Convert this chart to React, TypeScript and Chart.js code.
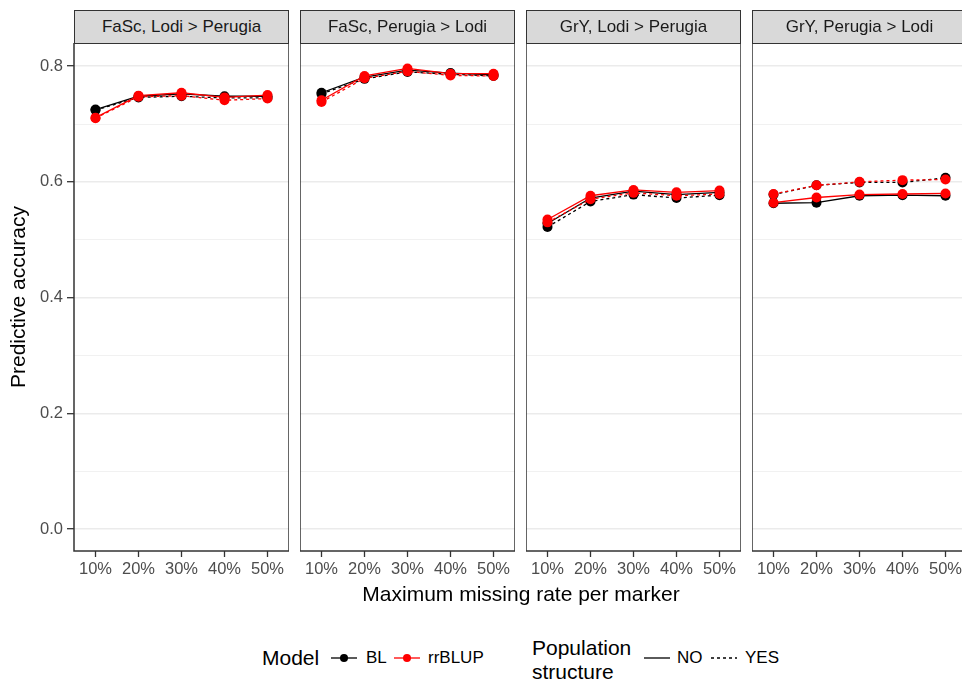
import React, { useEffect, useRef } from "react";
import { Chart, registerables } from "chart.js";
Chart.register(...registerables);

// ---------------- data ----------------
const categories = ["10%", "20%", "30%", "40%", "50%"];
const panelTitles = [
  "FaSc, Lodi > Perugia",
  "FaSc, Perugia > Lodi",
  "GrY, Lodi > Perugia",
  "GrY, Perugia > Lodi",
];
const yTickValues = [0, 0.1, 0.2, 0.3, 0.4, 0.5, 0.6, 0.7, 0.8];
const yTickLabels = ["0.0", "0.2", "0.4", "0.6", "0.8"];

// FaSc, Lodi > Perugia
const p1_BL_NO = [0.725, 0.748, 0.752, 0.748, 0.748];
const p1_BL_YES = [0.724, 0.746, 0.748, 0.745, 0.745];
const p1_RR_NO = [0.711, 0.749, 0.754, 0.746, 0.75];
const p1_RR_YES = [0.71, 0.747, 0.749, 0.741, 0.744];
// FaSc, Perugia > Lodi
const p2_BL_NO = [0.754, 0.781, 0.793, 0.788, 0.785];
const p2_BL_YES = [0.752, 0.778, 0.79, 0.786, 0.783];
const p2_RR_NO = [0.741, 0.783, 0.796, 0.787, 0.787];
const p2_RR_YES = [0.738, 0.779, 0.791, 0.784, 0.783];
// GrY, Lodi > Perugia
const p3_BL_NO = [0.528, 0.572, 0.584, 0.578, 0.582];
const p3_BL_YES = [0.522, 0.566, 0.578, 0.572, 0.577];
const p3_RR_NO = [0.535, 0.576, 0.586, 0.582, 0.585];
const p3_RR_YES = [0.53, 0.57, 0.581, 0.576, 0.579];
// GrY, Perugia > Lodi
const p4_BL_NO = [0.563, 0.564, 0.576, 0.577, 0.576];
const p4_BL_YES = [0.578, 0.594, 0.599, 0.599, 0.607];
const p4_RR_NO = [0.564, 0.573, 0.578, 0.579, 0.58];
const p4_RR_YES = [0.579, 0.594, 0.6, 0.603, 0.604];

const panels = [
  { BL_NO: p1_BL_NO, BL_YES: p1_BL_YES, RR_NO: p1_RR_NO, RR_YES: p1_RR_YES },
  { BL_NO: p2_BL_NO, BL_YES: p2_BL_YES, RR_NO: p2_RR_NO, RR_YES: p2_RR_YES },
  { BL_NO: p3_BL_NO, BL_YES: p3_BL_YES, RR_NO: p3_RR_NO, RR_YES: p3_RR_YES },
  { BL_NO: p4_BL_NO, BL_YES: p4_BL_YES, RR_NO: p4_RR_NO, RR_YES: p4_RR_YES },
];

// ---------------- style ----------------
const FONT = '"Liberation Sans", Arial, Helvetica, sans-serif';
const PLOT_TOP = 43;
const PLOT_BOTTOM = 551;
const PANEL_W = 215;
const PANEL_STEP = 226;
const FIRST_LEFT = 74;
const XAXIS_H = 40;
const BLACK = "#000000";
const RED = "#FF0000";

const isMajor = (v: number) => Math.round(v * 10) % 2 === 0;

const borderPlugin = {
  id: "panelBorder",
  afterDraw(chart: any) {
    const { ctx, chartArea } = chart;
    ctx.save();
    ctx.strokeStyle = "#333333";
    ctx.lineWidth = 1.5;
    ctx.strokeRect(chartArea.left, chartArea.top, chartArea.right - chartArea.left, chartArea.bottom - chartArea.top);
    ctx.restore();
  },
};

function Panel({ index }: { index: number }) {
  const ref = useRef<HTMLCanvasElement | null>(null);
  const first = index === 0;
  const left = first ? 0 : FIRST_LEFT + PANEL_STEP * index;
  const width = first ? FIRST_LEFT + PANEL_W : PANEL_W;
  const height = PLOT_BOTTOM - PLOT_TOP + XAXIS_H;

  useEffect(() => {
    const d = panels[index];
    const mk = (label: string, data: number[], color: string, dashed: boolean, order: number) => ({
      label,
      data,
      borderColor: color,
      backgroundColor: color,
      pointBackgroundColor: color,
      pointBorderColor: color,
      pointBorderWidth: 0,
      pointRadius: 5,
      borderWidth: 1.3,
      borderDash: dashed ? [3, 3] : [],
      tension: 0,
      order,
      fill: false,
    });
    const chart = new Chart(ref.current as HTMLCanvasElement, {
      type: "line",
      data: {
        labels: categories,
        datasets: [
          mk("rrBLUP NO", d.RR_NO, RED, false, 0),
          mk("rrBLUP YES", d.RR_YES, RED, true, 1),
          mk("BL NO", d.BL_NO, BLACK, false, 2),
          mk("BL YES", d.BL_YES, BLACK, true, 3),
        ],
      },
      options: {
        responsive: false,
        animation: false,
        layout: { padding: 0, autoPadding: false },
        plugins: { legend: { display: false }, tooltip: { enabled: false }, title: { display: false } },
        scales: {
          x: {
            type: "category",
            offset: true,
            grid: {
              display: true,
              drawOnChartArea: false,
              drawTicks: true,
              tickLength: 6,
              tickColor: "#333333",
              tickWidth: 1.3,
            },
            border: { display: false },
            ticks: {
              font: { family: FONT, size: 16.5 },
              color: "#4D4D4D",
              padding: 3,
              maxRotation: 0,
              autoSkip: false,
            },
            afterFit: (s: any) => {
              s.height = XAXIS_H;
              s.paddingLeft = 0;
              s.paddingRight = 0;
            },
          },
          y: {
            type: "linear",
            min: -0.038,
            max: 0.84,
            afterBuildTicks: (s: any) => {
              s.ticks = yTickValues.map((v) => ({ value: v }));
            },
            grid: {
              color: "#EBEBEB",
              lineWidth: (ctx: any) => (ctx.tick && isMajor(ctx.tick.value) ? 1.4 : 0.7),
              drawTicks: first,
              tickLength: 7,
              tickWidth: 1.3,
              tickColor: (ctx: any) => (ctx.tick && isMajor(ctx.tick.value) ? "#333333" : "rgba(0,0,0,0)"),
            },
            border: { display: false },
            ticks: {
              display: first,
              autoSkip: false,
              font: { family: FONT, size: 16.5 },
              color: "#4D4D4D",
              padding: 4,
              callback: (v: any) => (isMajor(Number(v)) ? yTickLabels[Math.round(Number(v) * 5)] : ""),
            },
            afterFit: (s: any) => {
              s.width = first ? FIRST_LEFT : 0;
              s.paddingTop = 0;
              s.paddingBottom = 0;
            },
          },
        },
      },
      plugins: [borderPlugin],
    } as any);
    return () => chart.destroy();
  }, [index]);

  return (
    <canvas
      ref={ref}
      width={width}
      height={height}
      style={{ position: "absolute", left, top: PLOT_TOP, width, height }}
    />
  );
}

function Strip({ index }: { index: number }) {
  return (
    <div
      style={{
        position: "absolute",
        left: FIRST_LEFT + PANEL_STEP * index,
        top: 10,
        width: PANEL_W,
        height: 34,
        boxSizing: "border-box",
        border: "1.5px solid #333333",
        background: "#D9D9D9",
        color: "#1A1A1A",
        fontFamily: FONT,
        fontSize: 17,
        display: "flex",
        alignItems: "center",
        justifyContent: "center",
        whiteSpace: "nowrap",
      }}
    >
      {panelTitles[index]}
    </div>
  );
}

function LineGlyph({ color, dashed, dot, left }: { color: string; dashed: boolean; dot: boolean; left: number }) {
  return (
    <svg width={28} height={14} style={{ position: "absolute", left, top: 651 }}>
      <line x1={1} y1={7} x2={27} y2={7} stroke={color} strokeWidth={1.3} strokeDasharray={dashed ? "3 3" : undefined} />
      {dot ? <circle cx={14} cy={7} r={4} fill={color} /> : null}
    </svg>
  );
}

const textStyle = (left: number, cy: number, size: number): React.CSSProperties => ({
  position: "absolute",
  left,
  top: cy - size * 0.6,
  fontFamily: FONT,
  fontSize: size,
  lineHeight: `${size * 1.2}px`,
  color: "#000",
  whiteSpace: "nowrap",
});

export default function App() {
  return (
    <div
      style={{
        position: "fixed",
        left: 0,
        top: 0,
        width: 962,
        height: 682,
        overflow: "hidden",
        background: "#FFFFFF",
      }}
    >
      {[0, 1, 2, 3].map((i) => (
        <Panel key={"p" + i} index={i} />
      ))}
      {[0, 1, 2, 3].map((i) => (
        <Strip key={"s" + i} index={i} />
      ))}
      <div
        style={{
          position: "absolute",
          left: 18 - 150,
          top: 297 - 13,
          width: 300,
          height: 26,
          lineHeight: "26px",
          textAlign: "center",
          transform: "rotate(-90deg)",
          fontFamily: FONT,
          fontSize: 21,
          color: "#000",
        }}
      >
        Predictive accuracy
      </div>
      <div
        style={{
          position: "absolute",
          left: 521 - 250,
          top: 594 - 13,
          width: 500,
          height: 26,
          lineHeight: "26px",
          textAlign: "center",
          fontFamily: FONT,
          fontSize: 21,
          color: "#000",
        }}
      >
        Maximum missing rate per marker
      </div>
      {/* legend */}
      <div style={textStyle(262, 658, 21)}>Model</div>
      <LineGlyph color={BLACK} dashed={false} dot={true} left={330} />
      <div style={textStyle(366, 658, 17)}>BL</div>
      <LineGlyph color={RED} dashed={false} dot={true} left={393} />
      <div style={textStyle(428, 658, 17)}>rrBLUP</div>
      <div style={textStyle(532, 648, 21)}>Population</div>
      <div style={textStyle(532, 672, 21)}>structure</div>
      <LineGlyph color={BLACK} dashed={false} dot={false} left={643} />
      <div style={textStyle(677, 658, 17)}>NO</div>
      <LineGlyph color={BLACK} dashed={true} dot={false} left={710} />
      <div style={textStyle(745, 658, 17)}>YES</div>
    </div>
  );
}
